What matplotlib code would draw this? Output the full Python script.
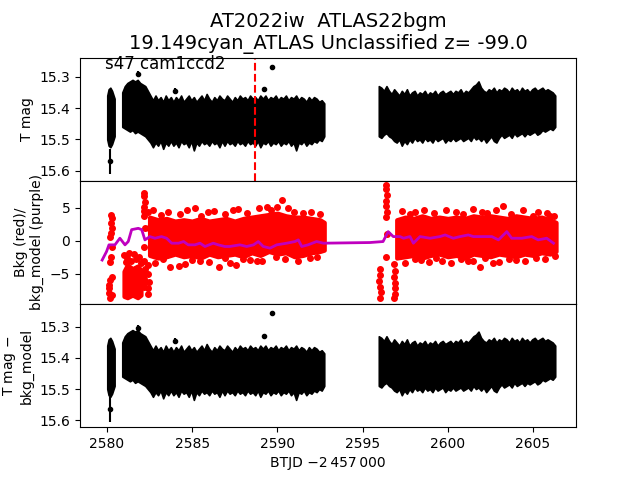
import matplotlib
matplotlib.use('Agg')
import matplotlib.pyplot as plt

# --- T mag envelope (black band), three observing segments ---
t_seg_a = [2580.02, 2580.1, 2580.2, 2580.3, 2580.45]
mag_hi_a = [15.36, 15.34, 15.335, 15.345, 15.37]
mag_lo_a = [15.50, 15.52, 15.525, 15.515, 15.49]

t_seg_b = [2580.90, 2581.05, 2581.20, 2581.35, 2581.50, 2581.65, 2581.80, 2581.95, 2582.10, 2582.25,
           2582.40, 2582.55, 2582.70, 2582.85, 2583.00, 2583.15, 2583.30, 2583.45, 2583.60, 2583.75,
           2583.90, 2584.05, 2584.20, 2584.35, 2584.50, 2584.65, 2584.80, 2584.95, 2585.10, 2585.25,
           2585.40, 2585.55, 2585.70, 2585.85, 2586.00, 2586.15, 2586.30, 2586.45, 2586.60, 2586.75,
           2586.90, 2587.05, 2587.20, 2587.35, 2587.50, 2587.65, 2587.80, 2587.95, 2588.10, 2588.25,
           2588.40, 2588.55, 2588.70, 2588.85, 2589.00, 2589.15, 2589.30, 2589.45, 2589.60, 2589.75,
           2589.90, 2590.05, 2590.20, 2590.35, 2590.50, 2590.65, 2590.80, 2590.95, 2591.10, 2591.25,
           2591.40, 2591.55, 2591.70, 2591.85, 2592.00, 2592.15, 2592.30, 2592.45, 2592.60, 2592.75]
mag_hi_b = [15.35, 15.33, 15.32, 15.315, 15.31, 15.315, 15.31, 15.32, 15.325, 15.33,
            15.345, 15.36, 15.375, 15.36, 15.375, 15.365, 15.38, 15.36, 15.375, 15.365,
            15.38, 15.365, 15.375, 15.36, 15.38, 15.37, 15.36, 15.375, 15.365, 15.38,
            15.37, 15.36, 15.375, 15.355, 15.37, 15.38, 15.365, 15.375, 15.36, 15.37,
            15.375, 15.36, 15.37, 15.38, 15.365, 15.375, 15.36, 15.37, 15.365, 15.375,
            15.36, 15.37, 15.365, 15.375, 15.36, 15.37, 15.36, 15.375, 15.365, 15.37,
            15.36, 15.375, 15.365, 15.37, 15.36, 15.375, 15.365, 15.37, 15.36, 15.375,
            15.365, 15.37, 15.38, 15.365, 15.375, 15.365, 15.37, 15.38, 15.375, 15.385]
mag_lo_b = [15.46, 15.465, 15.47, 15.475, 15.47, 15.48, 15.475, 15.48, 15.485, 15.49,
            15.50, 15.51, 15.525, 15.51, 15.52, 15.505, 15.53, 15.51, 15.52, 15.505,
            15.52, 15.51, 15.525, 15.505, 15.515, 15.51, 15.525, 15.505, 15.535, 15.51,
            15.52, 15.505, 15.515, 15.51, 15.52, 15.505, 15.515, 15.51, 15.525, 15.505,
            15.52, 15.505, 15.515, 15.51, 15.52, 15.505, 15.515, 15.51, 15.52, 15.505,
            15.515, 15.51, 15.52, 15.505, 15.525, 15.51, 15.515, 15.505, 15.52, 15.51,
            15.515, 15.505, 15.52, 15.51, 15.515, 15.505, 15.52, 15.51, 15.535, 15.51,
            15.515, 15.505, 15.52, 15.51, 15.515, 15.505, 15.51, 15.50, 15.505, 15.49]

t_seg_c = [2595.95, 2596.10, 2596.25, 2596.40, 2596.55, 2596.70, 2596.85, 2597.00, 2597.15, 2597.30,
           2597.45, 2597.60, 2597.75, 2597.90, 2598.05, 2598.20, 2598.35, 2598.50, 2598.65, 2598.80,
           2598.95, 2599.10, 2599.25, 2599.40, 2599.55, 2599.70, 2599.85, 2600.00, 2600.15, 2600.30,
           2600.45, 2600.60, 2600.75, 2600.90, 2601.05, 2601.20, 2601.35, 2601.50, 2601.65, 2601.80,
           2601.95, 2602.10, 2602.25, 2602.40, 2602.55, 2602.70, 2602.85, 2603.00, 2603.15, 2603.30,
           2603.45, 2603.60, 2603.75, 2603.90, 2604.05, 2604.20, 2604.35, 2604.50, 2604.65, 2604.80,
           2604.95, 2605.10, 2605.25, 2605.40, 2605.55, 2605.70, 2605.85, 2606.00, 2606.15, 2606.30]
mag_hi_c = [15.33, 15.335, 15.345, 15.33, 15.345, 15.355, 15.34, 15.35, 15.36, 15.345,
            15.355, 15.34, 15.36, 15.35, 15.345, 15.36, 15.35, 15.355, 15.345, 15.36,
            15.35, 15.355, 15.345, 15.36, 15.35, 15.345, 15.355, 15.35, 15.345, 15.355,
            15.345, 15.35, 15.34, 15.355, 15.345, 15.35, 15.34, 15.33, 15.325, 15.315,
            15.335, 15.345, 15.35, 15.34, 15.345, 15.335, 15.35, 15.34, 15.345, 15.335,
            15.34, 15.35, 15.335, 15.345, 15.34, 15.35, 15.335, 15.345, 15.34, 15.35,
            15.34, 15.335, 15.345, 15.34, 15.335, 15.345, 15.34, 15.345, 15.35, 15.36]
mag_lo_c = [15.49, 15.495, 15.485, 15.48, 15.49, 15.495, 15.505, 15.51, 15.50, 15.52,
            15.505, 15.515, 15.50, 15.51, 15.495, 15.505, 15.50, 15.51, 15.495, 15.505,
            15.50, 15.51, 15.495, 15.505, 15.50, 15.495, 15.51, 15.50, 15.505, 15.495,
            15.505, 15.50, 15.495, 15.505, 15.50, 15.495, 15.505, 15.49, 15.50, 15.495,
            15.505, 15.495, 15.51, 15.50, 15.49, 15.505, 15.51, 15.495, 15.485, 15.495,
            15.49, 15.485, 15.495, 15.48, 15.49, 15.485, 15.48, 15.49, 15.48, 15.485,
            15.48, 15.475, 15.485, 15.48, 15.47, 15.475, 15.47, 15.465, 15.47, 15.46]

# isolated T mag points (time, mag, err)
out_t = [2580.2, 2581.8, 2584.0, 2589.2, 2589.7]
out_mag_top = [15.57, 15.29, 15.345, 15.34, 15.27]
out_mag_bot = [15.565, 15.303, 15.345, 15.33, 15.255]
out_err = [0.04, 0.008, 0.008, 0.008, 0.008]

# --- background (red) core envelope ---
t_bkg_b = [2582.5, 2583.0, 2583.5, 2584.0, 2584.5, 2585.0, 2585.5, 2586.0, 2586.5, 2587.0,
           2587.5, 2588.0, 2588.5, 2589.0, 2589.5, 2590.0, 2590.5, 2591.0, 2591.5, 2592.0,
           2592.5, 2592.75]
bkg_hi_b = [3.6, 3.2, 3.4, 3.0, 3.2, 3.0, 3.4, 3.0, 3.2, 3.4,
            3.0, 3.4, 3.6, 3.8, 4.0, 4.2, 3.8, 3.6, 3.6, 3.4, 3.2, 2.8]
bkg_lo_b = [-2.2, -2.6, -2.4, -2.0, -2.4, -2.2, -2.6, -2.0, -2.4, -2.2,
            -2.0, -2.4, -1.8, -2.2, -1.6, -2.0, -1.8, -2.4, -2.2, -1.8, -1.6, -1.4]

t_bkg_low = [2581.0, 2581.2, 2581.5, 2581.8, 2582.0]
bkg_hi_low = [-4.6, -3.6, -4.2, -3.8, -4.4]
bkg_lo_low = [-8.4, -8.6, -8.2, -8.6, -8.2]

t_bkg_c = [2597.0, 2597.5, 2598.0, 2598.5, 2599.0, 2599.5, 2600.0, 2600.5, 2601.0, 2601.5,
           2602.0, 2602.5, 2603.0, 2603.5, 2604.0, 2604.5, 2605.0, 2605.5, 2606.0, 2606.35]
bkg_hi_c = [3.2, 3.6, 3.4, 3.8, 3.4, 3.6, 3.4, 3.6, 3.4, 3.8,
            3.6, 3.8, 3.6, 3.4, 3.8, 3.6, 3.4, 3.6, 3.2, 2.8]
bkg_lo_c = [-2.6, -2.4, -2.2, -2.6, -2.2, -2.0, -2.4, -2.2, -2.6, -2.0,
            -2.2, -2.4, -2.0, -2.2, -2.4, -2.0, -2.2, -1.8, -2.0, -1.6]

# scattered background points
bkg_pt_t = [2580.25, 2580.3, 2580.22, 2580.28, 2580.2, 2580.3, 2580.25, 2580.2, 2580.3,
            2580.2, 2580.1, 2580.15, 2580.1, 2580.2, 2580.3, 2580.25,
            2582.2, 2582.2, 2582.22, 2582.2, 2582.18, 2582.2, 2582.22, 2582.2, 2582.2,
            2582.22, 2582.2, 2582.18, 2582.2, 2582.2,
            2582.4, 2582.45, 2582.4, 2582.42, 2582.45, 2582.4, 2582.4,
            2581.0, 2581.3, 2581.6, 2581.9, 2581.1, 2581.4, 2581.7, 2582.0, 2581.2,
            2585.16, 2585.95, 2587.4, 2589.37, 2590.25, 2590.0, 2591.5,
            2583.7, 2584.2, 2586.6, 2587.6, 2588.4, 2588.8, 2590.45, 2591.9, 2585.46,
            2582.7, 2583.2, 2583.6, 2584.3, 2584.7, 2585.5, 2586.3, 2586.9, 2587.7, 2588.2,
            2588.9, 2589.6, 2590.6, 2591.0, 2592.0, 2592.5,
            2582.8, 2583.3, 2584.6, 2585.0, 2586.0, 2586.9, 2587.2, 2588.0, 2589.1, 2589.9,
            2591.2, 2592.3,
            2596.0, 2596.05, 2595.95, 2596.0, 2596.1, 2596.05,
            2596.4, 2596.4, 2596.42, 2596.4, 2596.38, 2596.42, 2596.4, 2596.4, 2596.42,
            2596.85, 2596.9, 2596.85, 2596.9, 2596.88, 2596.9, 2596.85,
            2600.5, 2603.25, 2598.08, 2602.3, 2605.0, 2606.0,
            2599.64, 2601.9, 2602.67, 2601.2, 2604.0, 2598.4,
            2597.3, 2597.8, 2598.6, 2599.2, 2599.9, 2600.9, 2601.5, 2602.0, 2602.8, 2603.7,
            2604.4, 2605.3, 2605.8, 2606.2,
            2597.5, 2598.1, 2598.9, 2599.3, 2600.2, 2600.8, 2601.5, 2602.2, 2603.0, 2603.6,
            2604.5, 2605.2, 2605.7, 2606.3]
bkg_pt_v = [3.9, 3.4, 2.7, 1.9, 0.65, -0.9, -2.4, -3.2, -5.4,
            -5.9, -6.6, -7.2, -7.9, -8.6, -8.2, 1.2,
            7.3, 6.8, 5.9, 5.2, 4.5, 3.7, 2.0, -1.0, -3.0,
            -4.2, -5.0, -5.8, -6.4, -7.0,
            4.3, 2.0, -3.6, -5.0, -6.2, -7.2, -8.0,
            -2.2, -1.8, -2.0, -2.4, -3.2, -3.0, -2.8, -3.4, -2.6,
            4.9, 4.4, 4.7, 5.2, 6.2, 5.2, 4.2,
            -4.0, -3.8, -4.0, -3.6, -2.9, -3.0, -2.8, -2.6, -3.1,
            4.6, 3.9, 4.4, 4.0, 4.7, 3.8, 4.5, 4.1, 4.8, 4.2,
            4.9, 4.6, 5.0, 4.4, 4.3, 4.0,
            -3.3, -2.7, -3.5, -2.9, -3.2, -2.6, -3.4, -2.8, -3.0, -2.5,
            -3.1, -2.4,
            -4.3, -5.2, -6.0, -7.0, -7.8, -8.6,
            8.5, 7.8, 7.0, 6.0, 5.3, 4.3, 3.6, -2.4, 1.0,
            -3.5, -4.5, -5.5, -6.3, -7.2, -8.0, -8.6,
            4.4, 5.3, 4.4, 4.2, 3.7, 3.8,
            -3.1, -4.0, -3.4, -3.1, -2.9, -2.9,
            4.5, 4.0, 4.7, 4.2, 4.6, 4.0, 4.8, 4.3, 4.6, 4.1,
            4.7, 4.4, 4.2, 3.8,
            -3.3, -2.7, -3.2, -2.6, -3.4, -2.8, -3.0, -2.6, -3.2, -2.7,
            -3.0, -2.6, -2.8, -2.3]

# --- bkg_model (purple) ---
t_model = [2579.72, 2579.98, 2580.12, 2580.47, 2580.76, 2581.06, 2581.25, 2581.45, 2581.84,
           2582.04, 2582.23, 2582.52, 2582.82, 2583.2, 2583.5, 2583.8, 2584.2, 2584.5,
           2584.77, 2585.16, 2585.46, 2585.75, 2586.24, 2586.53, 2586.92, 2587.2, 2587.8,
           2588.2, 2588.6, 2588.88, 2589.17, 2589.57, 2589.96, 2590.55, 2591.03, 2591.23,
           2591.43, 2591.8, 2592.3, 2592.7, 2595.43, 2596.2, 2596.5, 2596.8, 2597.2,
           2597.4, 2597.78, 2597.98, 2598.37, 2598.96, 2599.54, 2599.84, 2600.32, 2600.72,
           2601.2, 2601.5, 2602.0, 2602.58, 2602.97, 2603.46, 2603.75, 2604.34, 2604.92,
           2605.3, 2605.8, 2606.2]
bkg_model = [-2.9, -1.6, -0.6, -0.6, 0.4, -0.6, -0.1, 1.7, 1.9,
             1.7, 0.15, 0.65, 0.4, 0.65, 0.4, -0.35, -0.35, -0.1,
             -0.6, -0.6, -0.35, -0.85, -0.35, -0.6, -0.85, -0.85, -0.6,
             -0.85, -0.6, -0.1, -0.85, -1.1, -0.6, -0.35, -0.1, 0.15,
             -0.85, -0.6, -0.1, -0.35, -0.25, -0.1, 1.4, 0.65, 0.65,
             0.4, 0.65, -0.35, 0.65, 0.4, 0.65, 0.9, 0.4, 0.65,
             0.9, 0.65, 0.65, 0.65, 0.15, 1.4, 0.4, 0.4, 0.65,
             0.15, 0.4, -0.35]

event_t = 2588.69

fig, (ax0, ax1, ax2) = plt.subplots(3, 1, sharex=True, figsize=(6.4, 4.8))
fig.subplots_adjust(hspace=0)

# 1) T mag  and  3) T mag - bkg_model
for ax, omag in ((ax0, out_mag_top), (ax2, out_mag_bot)):
    for t, hi, lo in ((t_seg_a, mag_hi_a, mag_lo_a),
                      (t_seg_b, mag_hi_b, mag_lo_b),
                      (t_seg_c, mag_hi_c, mag_lo_c)):
        ax.fill_between(t, hi, lo, color='k', lw=1.2, edgecolor='k')
    ax.errorbar(out_t, omag, yerr=out_err, fmt='o', color='k', ms=3, lw=1.5)

ax0.axvline(event_t, color='r', linestyle='--', lw=1.5)
ax0.set_ylim(15.632, 15.239)
ax0.set_yticks([15.3, 15.4, 15.5, 15.6])
ax0.set_ylabel('T mag')
ax0.text(0.05, 0.945, 's47 cam1ccd2', transform=ax0.transAxes,
         fontsize=12, va='center', ha='left')
ax0.set_title('AT2022iw  ATLAS22bgm\n19.149cyan_ATLAS Unclassified z= -99.0',
              fontsize=14)

# 2) background + model
for t, hi, lo in ((t_bkg_b, bkg_hi_b, bkg_lo_b),
                  (t_bkg_low, bkg_hi_low, bkg_lo_low),
                  (t_bkg_c, bkg_hi_c, bkg_lo_c)):
    ax1.fill_between(t, hi, lo, color='r', lw=3, edgecolor='r')
ax1.plot(bkg_pt_t, bkg_pt_v, 'o', color='r', ms=4)
ax1.plot(t_model, bkg_model, color='m', lw=2)
ax1.set_ylim(-9.55, 9.09)
ax1.set_yticks([-5, 0, 5])
ax1.set_ylabel('Bkg (red)/\nbkg_model (purple)')

ax2.set_ylim(15.623, 15.226)
ax2.set_yticks([15.3, 15.4, 15.5, 15.6])
ax2.set_ylabel('T mag $-$\nbkg_model')
ax2.set_xlim(2578.42, 2607.52)
ax2.set_xlabel('BTJD \u22122\u2009457\u2009000')

fig.savefig('out.png', dpi=100)
